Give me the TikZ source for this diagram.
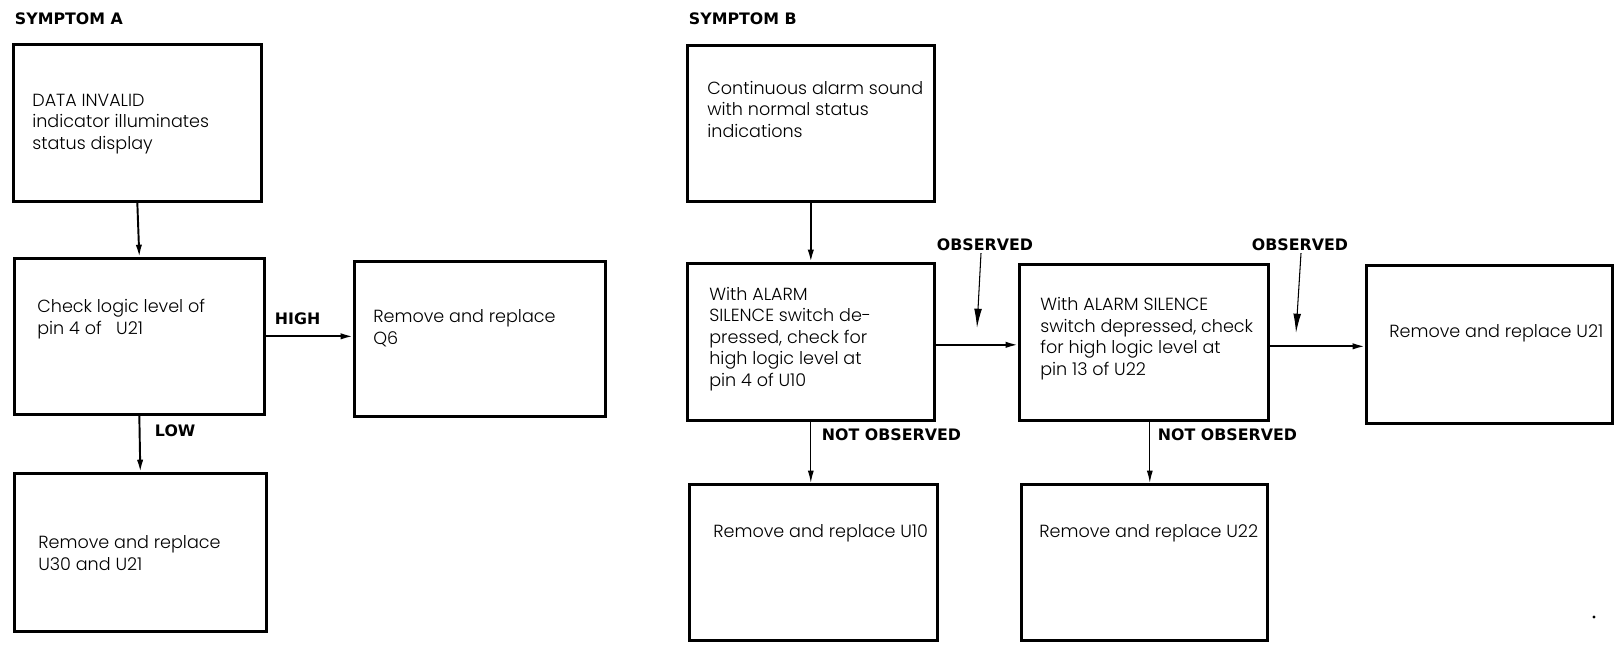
\documentclass[tikz,border=0pt]{standalone}
\usepackage{fontspec}
\setmainfont{Poppins Light}
\newfontfamily\etiqfont{DejaVu Sans}
\usetikzlibrary{arrows.meta}

% a box: name, top left corner, width, height (in px)
\newcommand{\boite}[5]{\node[boite, minimum width=#4*0.02cm, minimum height=#5*0.02cm] (#1) at (#2,#3) {}}
% the text of a box: name, baseline of its last line, lines
\newcommand{\texte}[4]{\node[texte] (#1) at (#2,#3) {#4}}
% a bold label
\newcommand{\etiq}[4]{\node[etiq] (#1) at (#2,#3) {#4}}

\begin{document}
\begin{tikzpicture}[x=0.02cm, y=-0.02cm,
	boite/.style={draw, line width=1.5pt, inner sep=0, anchor=north west},
	texte/.style={anchor=base west, align=left, inner sep=0,
		font=\fontsize{10}{12.2}\selectfont},
	etiq/.style={anchor=base west, inner sep=1.5pt,
		font=\etiqfont\bfseries\fontsize{9}{10}\selectfont},
	fleche/.style={line width=1.1pt, -{Latex[length=7pt, width=3.6pt]}},
	mince/.style={line width=0.75pt, -{Latex[length=7pt, width=3.4pt]}},
	fin/.style={line width=0.6pt, -{Latex[length=11pt, width=4.4pt]}}]
\useasboundingbox (0,0) rectangle (1617,646);
%Symptom A
	\etiq{syma}{12}{24}{SYMPTOM A};
	\boite{a1}{12}{43}{248}{157};
	\boite{a2}{13}{257}{250}{156};
	\boite{a3}{353}{260}{251}{155};
	\boite{a4}{13}{472}{252}{158};
	\texte{ta1}{32}{149}{DATA INVALID\\indicator illuminates\\status display};
	\texte{ta2}{37}{334}{Check logic level of\\pin 4 of \ \ U21};
	\texte{ta3}{373}{344}{Remove and replace\\Q6};
	\texte{ta4}{38}{570}{Remove and replace\\U30 and U21};
	\etiq{haut}{272}{324}{HIGH};
	\etiq{bas}{152}{436}{LOW};
	\draw[fleche] (a1.south) -- (a2.north);
	\draw[fleche] (a2.east) -- (a3.west |- a2.east);
	\draw[fleche] (a2.south) -- (a4.north);
%Symptom B
	\etiq{symb}{686}{24}{SYMPTOM B};
	\boite{b1}{686}{44}{247}{156};
	\boite{b2}{686}{262}{247}{157};
	\boite{b3}{1018}{263}{249}{156};
	\boite{b4}{1365}{264}{246}{158};
	\boite{b5}{688}{483}{248}{156};
	\boite{b6}{1020}{483}{246}{156};
	\texte{tb1}{707}{137}{Continuous alarm sound\\with normal status\\indications};
	\texte{tb2}{709}{386}{With ALARM\\SILENCE switch de-\\pressed, check for\\high logic level at\\pin 4 of U10};
	\texte{tb3}{1040}{375}{With ALARM SILENCE\\switch depressed, check\\for high logic level at\\pin 13 of U22};
	\texte{tb4}{1389}{337}{Remove and replace U21};
	\texte{tb5}{713}{537}{Remove and replace U10};
	\texte{tb6}{1039}{537}{Remove and replace U22};
	\draw[fleche] (b1.south) -- (b2.north);
	\draw[fleche] ([yshift=-0.06cm]b2.east) -- ([yshift=-0.06cm]b3.west |- b2.east);
	\draw[fleche] ([yshift=-0.08cm]b3.east) -- ([yshift=-0.08cm]b4.west |- b3.east);
	\draw[mince] (b2.south) -- (b5.north -| b2.south);
	\draw[mince] ([xshift=0.12cm]b3.south) -- ([xshift=0.12cm]b3.south |- b6.north);
	\etiq{nob1}{819}{440}{NOT OBSERVED};
	\etiq{nob2}{1155}{440}{NOT OBSERVED};
%The observed marks
	\node[etiq, anchor=base] (obs1) at (985,250) {OBSERVED};
	\node[etiq, anchor=base] (obs2) at (1300,250) {OBSERVED};
	\coordinate (pt1) at (977,328);
	\coordinate (pt2) at (1296,333);
	\draw[fin] ([xshift=-0.08cm]obs1.south) -- (pt1);
	\draw[fin] ([xshift=0.02cm]obs2.south) -- (pt2);
	\fill (1594,617) circle[radius=0.9pt];
\end{tikzpicture}
\end{document}
